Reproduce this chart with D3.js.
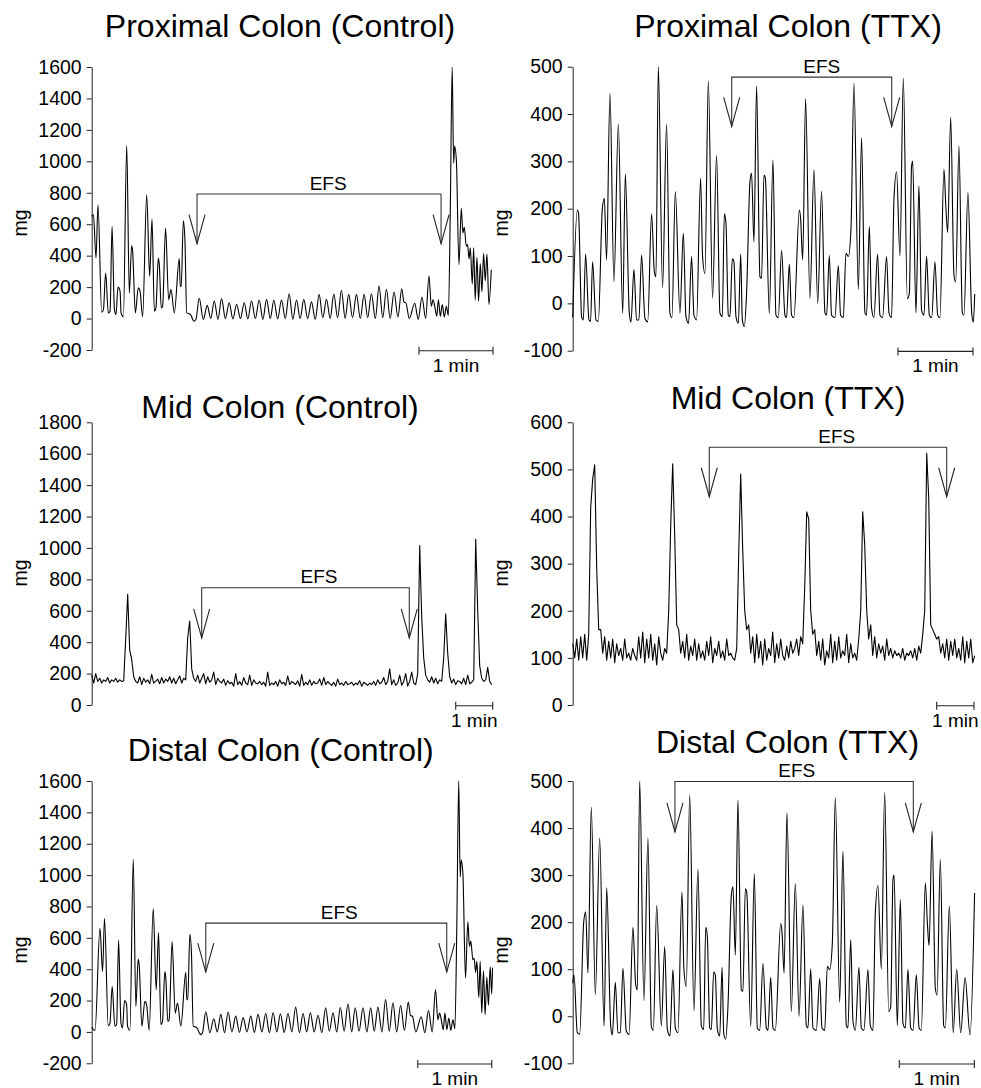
<!DOCTYPE html>
<html>
<head>
<meta charset="utf-8">
<script src="https://cdn.jsdelivr.net/npm/d3@7"></script>
<style>
  body { margin: 0; background: #fff; }
  text { font-family: Arial, "Liberation Sans", sans-serif; fill: #000; }
</style>
</head>
<body>
<svg id="chart" width="981" height="1088"></svg>
<script>
// traces: [time (s), force (mg)] turning points
var proxCtrl = [[0,650],[1.4,660],[3.5,385],[5.1,724],[8.1,40],[9.5,55],[11.3,290],[13.5,36],[14.9,47],[16.5,586],[18.4,60],[19.7,25],[21.3,200],[23,175],[23.8,36],[25.7,11],[28.4,1100],[30.5,163],[32.4,465],[33.2,427],[35.4,36],[37.8,195],[39.2,174],[41.3,11],[44.6,787],[47,269],[48.9,633],[50.8,47],[52.1,68],[54,385],[54.8,343],[56.4,68],[57.5,78],[59.9,576],[62.4,120],[64.3,184],[67,36],[71,381],[71.8,205],[72.6,205],[74.3,622],[75.6,500],[77,36],[78.8,32],[80.2,25],[82.9,-17],[84.5,-6],
  [87.2,129],[90.5,-5],[93.7,84],[96.5,0],[99.4,112],[102.4,-5],[105.3,127],[108.4,0],[111.5,101],[114.5,-3],[117.5,91],[120.6,0],[123.7,101],[126.6,-3],[129.6,112],[132.7,0],[135.8,118],[138.8,-5],[141.8,122],[144.8,0],[147.7,116],[150.8,-3],[153.9,118],[157,0],[160.1,158],[163.1,-5],[166.1,118],[169,0],[172,122],[175.1,0],[178.2,106],[181.3,-5],[184.4,154],[187.4,5],[190.4,122],[193.4,0],[196.3,156],[199.4,5],[202.5,180],[205.5,0],[208.4,154],[211.5,5],[214.7,154],[217.8,0],[220.9,154],[223.8,5],[226.8,158],[230,0],[233,207],[236,5],[239,186],[242,0],[245.2,169],[248.3,10],[251.4,190],[253.2,105],[254.8,100],[257.5,0],[261.9,97],[264.8,-5],[267.8,137],[270.8,0],[273.5,270],[275.4,78],[276.8,120],[278.4,68],[279.8,15],[281.1,120],[282.7,15],[284.3,89],[285.9,10],[287.6,78],[289.2,20],
  [290.8,700],[292.3,1600],[293.5,988],[294.3,1098],[295.7,1009],[297.8,343],[299.7,702],[301,544],[302.1,580],[303.8,460],[304.8,470],[306,380],[307,450],[308.6,220],[309.7,450],[311,120],[312.4,390],[313.7,110],[315.1,350],[316.4,170],[317.8,415],[319.1,240],[320.5,410],[322.1,90],[324,310]];

var proxTTX = [[0,-30],[3.7,197],[4.7,190],[7.1,-28],[8.5,-35],[10.3,104],[13,-35],[14.3,-38],[15.9,88],[18.6,-35],[20.5,-38],[23.7,200],[25.3,222],[27.1,92],[29.8,444],[33,46],[36.5,379],[40,-21],[42.1,273],[45.3,-21],[46.6,-40],[49,72],[51.1,-35],[53,-35],[55.1,102],[57.8,-32],[60,-39],[63.1,189],[65.3,67],[66.6,56],[68.5,500],[71.9,33],[75.1,379],[77.8,-21],[79.4,-30],[82.1,236],[85.8,-21],[88.5,148],[90.6,-28],[92.7,-42],[95.1,99],[97,-25],[99.1,-35],[102.3,264],[103.9,99],[105.8,63],[108.5,470],[111.9,11],[115.1,313],[117.8,-21],[119.7,-28],[121.3,189],[122.6,170],[124.5,-25],[125.8,-28],[127.7,94],[129,88],[130.6,-28],[132.5,-42],[134.4,104],[135.7,-35],[137.3,-49],[139.1,21],[141.8,257],[143.1,275],[145,130],[147.1,459],[149.8,56],[151.1,53],[153,271],[154.1,265],[157.3,-22],
  [160.2,303],[162.6,-25],[164.5,-30],[167.1,112],[169.8,-25],[171.1,-30],[173.3,83],[175.1,-25],[177,-30],[181.3,197],[182.3,180],[184,92],[186.3,432],[189.8,10],[193,282],[196,0],[199.1,237],[201.8,-20],[203.1,-25],[205.3,101],[207.1,-25],[209.8,-30],[212.5,80],[214.3,-25],[216.5,-30],[218.6,106],[220.5,99],[222.6,155],[225,465],[228.5,30],[231.1,350],[233.8,-20],[235.1,-25],[237.3,163],[239.1,-10],[241,-30],[243.9,104],[245.8,-25],[247.9,-30],[251.1,99],[253,-20],[255.1,-30],[257,220],[259.1,278],[261.8,100],[264.5,476],[267.7,10],[269.3,20],[271.1,290],[272,300],[274.6,-20],[277,248],[279.1,-15],[281,-25],[283.1,100],[285.3,-25],[287.2,-30],[289.8,88],[292,-25],[293.8,-30],[297,283],[298.6,200],[300,150],[302.4,393],[305,60],[306.4,45],[309,333],[311.7,-20],[313,-25],[316.2,234],[319.2,-20],[320.5,-40],[321.6,20]];

var distCtrl = [[0,30],[2.7,10],[6.7,660],[8.8,385],[10.4,724],[13.4,40],[14.8,55],[16.6,290],[18.8,36],[20.2,47],[21.8,586],[23.7,60],[25,25],[26.6,200],[28.3,175],[29.1,36],[31,11],[33.7,1100],[35.8,163],[37.7,465],[38.5,427],[40.7,36],[43.1,195],[44.5,174],[46.6,11],[49.9,787],[52.3,269],[54.2,633],[56.1,47],[57.4,68],[59.3,385],[60.1,343],[61.7,68],[62.8,78],[65.2,576],[67.7,120],[69.6,184],[72.3,36],[76.3,381],[77.1,205],[77.9,205],[79.6,622],[80.9,500],[82.3,36],[84.1,32],[85.5,25],[88.2,-17],[89.8,-6],
  [92.5,129],[95.8,-5],[99,84],[101.8,0],[104.7,112],[107.7,-5],[110.6,127],[113.7,0],[116.8,101],[119.8,-3],[122.8,91],[125.9,0],[129,101],[131.9,-3],[134.9,112],[138,0],[141.1,118],[144.1,-5],[147.1,122],[150.1,0],[153,116],[156.1,-3],[159.2,118],[162.3,0],[165.4,158],[168.4,-5],[171.4,118],[174.3,0],[177.3,122],[180.4,0],[183.5,106],[186.6,-5],[189.7,154],[192.7,5],[195.7,122],[198.7,0],[201.6,156],[204.7,5],[207.8,180],[210.8,0],[213.7,154],[216.8,5],[220,154],[223.1,0],[226.2,154],[229.1,5],[232.1,158],[235.3,0],[238.3,207],[241.3,5],[244.3,186],[247.3,0],[250.5,169],[253.6,10],[256.7,190],[258.5,105],[260.1,100],[262.8,0],[267.2,97],[270.1,-5],[273.1,137],[276.1,0],[278.8,270],[280.7,78],[282.1,120],[283.7,68],[285.1,15],[286.4,120],[288,15],[289.6,89],[291.2,10],[292.9,78],[294.5,20],
  [296.1,700],[297.6,1600],[298.8,988],[299.6,1098],[301,1009],[303.1,343],[305,702],[306.3,544],[307.4,580],[309.1,460],[310.1,470],[311.3,380],[312.3,450],[313.9,220],[315,450],[316.3,120],[317.7,390],[319,110],[320.4,350],[321.7,170],[323.1,415],[324.4,240],[325,410]];

var distTTX = [[0,70],[1,88],[3.7,-35],[5.6,-38],[8.8,200],[10.4,222],[12.2,92],[14.9,444],[18.1,46],[21.6,379],[25.1,-21],[27.2,273],[30.4,-21],[31.7,-40],[34.1,72],[36.2,-35],[38.1,-35],[40.2,102],[42.9,-32],[45.1,-39],[48.2,189],[50.4,67],[51.7,56],[53.6,500],[57,33],[60.2,379],[62.9,-21],[64.5,-30],[67.2,236],[70.9,-21],[73.6,148],[75.7,-28],[77.8,-42],[80.2,99],[82.1,-25],[84.2,-35],[87.4,264],[89,99],[90.9,63],[93.6,470],[97,11],[100.2,313],[102.9,-21],[104.8,-28],[106.4,189],[107.7,170],[109.6,-25],[110.9,-28],[112.8,94],[114.1,88],[115.7,-28],[117.6,-42],[119.5,104],[120.8,-35],[122.4,-49],[124.2,21],[126.9,257],[128.2,275],[130.1,130],[132.2,459],[134.9,56],[136.2,53],[138.1,271],[139.2,265],[142.4,-22],
  [145.3,303],[147.7,-25],[149.6,-30],[152.2,112],[154.9,-25],[156.2,-30],[158.4,83],[160.2,-25],[162.1,-30],[166.4,197],[167.4,180],[169.1,92],[171.4,432],[174.9,10],[178.1,282],[181.1,0],[184.2,237],[186.9,-20],[188.2,-25],[190.4,101],[192.2,-25],[194.9,-30],[197.6,80],[199.4,-25],[201.6,-30],[203.7,106],[205.6,99],[207.7,155],[210.1,465],[213.6,30],[216.2,350],[218.9,-20],[220.2,-25],[222.4,163],[224.2,-10],[226.1,-30],[229,104],[230.9,-25],[233,-30],[236.2,99],[238.1,-20],[240.2,-30],[242.1,220],[244.2,278],[246.9,100],[249.6,476],[252.8,10],[254.4,20],[256.2,290],[257.1,300],[259.7,-20],[262.1,248],[264.2,-15],[266.1,-25],[268.2,100],[270.4,-25],[272.3,-30],[274.9,88],[277.1,-25],[278.9,-30],[282.1,283],[283.7,200],[285.1,150],[287.5,393],[290.1,60],[291.5,45],[294.1,333],[296.8,-20],[298.1,-25],[301.3,234],[304.4,-35],[307.2,100],[310.4,-35],[313.9,82],[317.9,-40],[321.5,262]];

// mid colon recordings: evenly sampled, one value every 3.24 s (control) / 3.22 s (TTX)
var midCtrlMg = [190,140,200,150,170,140,160,150,175,140,160,150,170,145,160,150,
  155,420,705,350,290,180,150,
  140,180,130,170,145,160,135,195,140,150,165,135,175,140,165,150,180,140,170,135,160,185,140,170,
  160,430,535,230,170,
  150,190,140,170,200,135,180,145,160,210,
  130,170,150,140,165,125,155,135,145,120,
  200,130,150,125,175,140,130,190,125,160,
  140,135,150,130,145,120,210,125,140,130,
  150,120,160,135,145,125,185,130,150,140,
  130,155,120,195,125,145,130,160,125,150,
  135,140,165,125,175,130,150,135,125,145,
  120,165,130,140,125,150,130,135,145,125,
  140,130,155,120,145,135,125,140,130,150,
  125,160,135,145,175,130,150,230,130,160,
  125,140,190,125,150,200,120,150,210,
  140,130,200,1015,560,300,190,
  160,145,180,140,170,135,160,150,
  300,580,330,180,
  140,165,130,155,150,135,170,130,190,135,145,160,
  1055,600,250,170,
  150,160,240,150,130];
var midCtrlStep = 3.24;

var midTTXMg = [130,100,140,95,145,100,150,95,
  150,420,480,510,290,160,
  160,110,145,95,135,100,140,90,130,105,120,95,140,100,110,95,120,105,95,145,100,155,90,140,100,150,95,130,85,145,110,95,120,
  110,200,380,512,360,170,
  160,110,135,100,150,95,125,105,140,95,130,100,115,95,135,105,145,90,120,105,135,100,115,95,140,105,110,100,95,
  120,320,490,330,200,160,
  170,110,145,90,150,100,135,85,140,95,120,105,155,90,130,100,140,105,95,125,100,135,110,120,140,105,145,
  130,250,410,395,200,150,
  160,105,135,95,140,85,115,100,150,90,135,95,145,100,115,105,150,90,130,100,110,95,140,
  200,410,340,200,140,
  170,105,145,100,130,110,125,95,140,105,120,100,115,105,110,100,120,95,110,105,115,100,120,95,125,110,150,
  200,534,440,170,160,150,
  140,145,110,130,100,140,95,135,105,140,100,120,95,145,90,135,100,140,90,105];
var midTTXStep = 3.22;

var titles = ["Proximal Colon (Control)", "Proximal Colon (TTX)", "Mid Colon (Control)",
              "Mid Colon (TTX)", "Distal Colon (Control)", "Distal Colon (TTX)"];
var ticksCtrl = [-200, 0, 200, 400, 600, 800, 1000, 1200, 1400, 1600];
var ticksTTX = [-100, 0, 100, 200, 300, 400, 500];
var ticksMidCtrl = [0, 200, 400, 600, 800, 1000, 1200, 1400, 1600, 1800];
var ticksMidTTX = [0, 100, 200, 300, 400, 500, 600];
// EFS on/off times (s) and 1 min bar start (s)
var efsOn  = [85.4, 127.2, 178.2, 219.9, 92.5, 81.8];
var efsOff = [283.3, 255.2, 514.5, 602.1, 287.9, 272.5];
var barStart = [265.4, 260.2, 589.7, 586, 264.4, 261.3];

function sampled(vals, step) {
  return vals.map(function(v, i) { return [i * step, v]; });
}

// layout of each panel
var panels = [
  { data: proxCtrl, ticks: ticksCtrl, xMax: 325, left: 91.7, right: 492.5, top: 67, bottom: 350,
    tx: 280, ty: 36.7, my: 223, labelT: 191.7, bracket: 792, tip: 476, smooth: true },
  { data: proxTTX, ticks: ticksTTX, xMax: 321.6, left: 572.7, right: 974.7, top: 66.7, bottom: 350.7,
    tx: 788, ty: 36.7, my: 223, labelT: 199.2, bracket: 478, tip: 374, smooth: true },
  { data: sampled(midCtrlMg, midCtrlStep), ticks: ticksMidCtrl, xMax: 648, left: 91.7, right: 491.7, top: 422.3, bottom: 705,
    tx: 280, ty: 418.3, my: 573, labelT: 368.2, bracket: 747, tip: 427, smooth: false },
  { data: sampled(midTTXMg, midTTXStep), ticks: ticksMidTTX, xMax: 647.2, left: 572.7, right: 974.7, top: 422.3, bottom: 705,
    tx: 788, ty: 409.3, my: 573, labelT: 425, bracket: 547, tip: 442, smooth: false },
  { data: distCtrl, ticks: ticksCtrl, xMax: 325, left: 91.7, right: 492.5, top: 781, bottom: 1063.3,
    tx: 280.8, ty: 760.7, my: 950, labelT: 200.8, bracket: 694, tip: 382, smooth: true },
  { data: distTTX, ticks: ticksTTX, xMax: 321.6, left: 572.7, right: 974.7, top: 781, bottom: 1063.3,
    tx: 787.5, ty: 753.3, my: 950, labelT: 179.2, bracket: 499, tip: 392, smooth: true }
];

var svg = d3.select("#chart");

panels.forEach(function(p, k) {
  var t = p.ticks;
  var x = d3.scaleLinear().domain([0, p.xMax]).range([p.left, p.right]);
  var y = d3.scaleLinear().domain([t[0], t[t.length - 1]]).range([p.bottom, p.top]);
  var g = svg.append("g");

  // title
  g.append("text")
    .attr("x", p.tx).attr("y", p.ty)
    .attr("text-anchor", "middle")
    .style("font-size", "32px")
    .text(titles[k]);

  // y axis
  var ax = g.append("g")
    .attr("transform", "translate(" + p.left + ",0)")
    .call(d3.axisLeft(y).tickValues(t).tickSize(5).tickSizeOuter(0).tickPadding(5)
      .tickFormat(function(d) { return String(d); }));
  ax.selectAll("path, line").attr("stroke", "#222");
  ax.selectAll("text").style("font-size", "19.5px")
    .style("font-family", "Arial, 'Liberation Sans', sans-serif").attr("fill", "#000");

  g.append("text")
    .attr("transform", "translate(" + (p.left - 71.7) + "," + p.my + ") rotate(-90)")
    .attr("text-anchor", "middle")
    .attr("dy", "0.35em")
    .style("font-size", "19.5px")
    .text("mg");

  // trace
  var line = d3.line()
    .x(function(d) { return x(d[0]); })
    .y(function(d) { return y(d[1]); })
    .curve(p.smooth ? d3.curveMonotoneX : d3.curveLinear);
  g.append("path")
    .datum(p.data)
    .attr("d", line)
    .attr("fill", "none")
    .attr("stroke", "#000")
    .attr("stroke-width", 1.1)
    .attr("stroke-linejoin", "round");

  // EFS bracket with arrows
  var x0 = x(efsOn[k]), x1 = x(efsOff[k]), yb = y(p.bracket), yt = y(p.tip);
  g.append("path")
    .attr("d", "M" + x0 + "," + yt + "V" + yb + "H" + x1 + "V" + yt)
    .attr("fill", "none").attr("stroke", "#333").attr("stroke-width", 1.1);
  [x0, x1].forEach(function(xa) {
    g.append("path")
      .attr("d", "M" + (xa - 8) + "," + (yt - 29) + "L" + xa + "," + yt + "L" + (xa + 8) + "," + (yt - 29))
      .attr("fill", "none").attr("stroke", "#222").attr("stroke-width", 1.1);
  });
  g.append("text")
    .attr("x", x(p.labelT)).attr("y", yb - 4.5)
    .attr("text-anchor", "middle")
    .style("font-size", "19px")
    .text("EFS");

  // 1 min scale bar
  var b0 = x(barStart[k]), b1 = x(barStart[k] + 60), by = p.bottom + 0.7;
  g.append("path")
    .attr("d", "M" + b0 + "," + by + "H" + b1 + "M" + b0 + "," + (by - 4) + "V" + (by + 4) +
               "M" + b1 + "," + (by - 4) + "V" + (by + 4))
    .attr("fill", "none").attr("stroke", "#222").attr("stroke-width", 1.1);
  g.append("text")
    .attr("x", (b0 + b1) / 2).attr("y", by + 21)
    .attr("text-anchor", "middle")
    .style("font-size", "19px")
    .text("1 min");
});
</script>
</body>
</html>
